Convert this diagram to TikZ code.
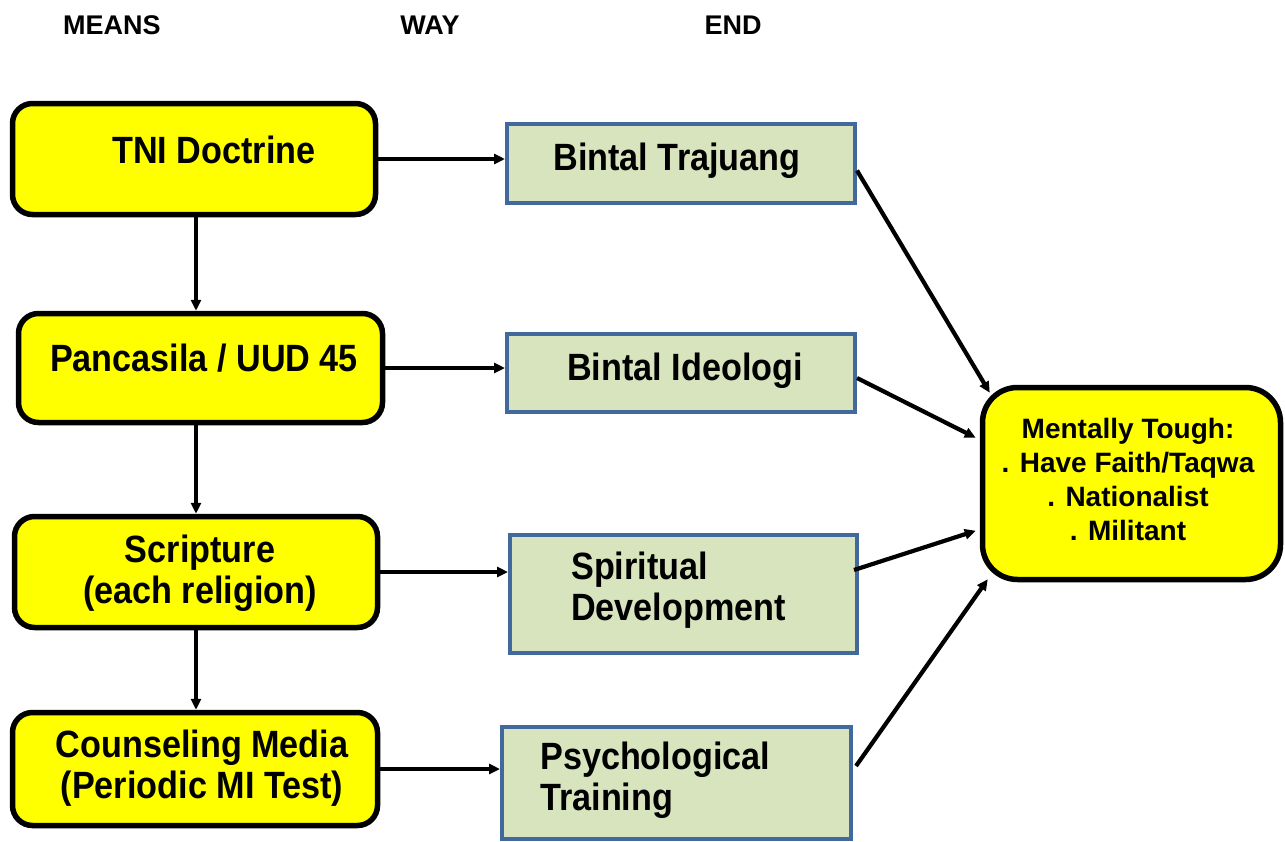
\documentclass[tikz,border=0pt]{standalone}
\usepackage{fontspec}
\setmainfont{Liberation Sans}
\newfontfamily\condfont[FakeStretch=0.9]{Liberation Sans}
\usetikzlibrary{arrows.meta,calc}
\definecolor{boxyellow}{RGB}{255,255,0}
\definecolor{boxgreen}{RGB}{215,228,189}
\definecolor{boxblue}{RGB}{65,105,155}
\begin{document}
\begin{tikzpicture}[x=1pt,y=-1pt,
  yel/.style={draw=black, line width=5.5pt, fill=boxyellow, rounded corners=20pt, inner sep=0pt},
  grn/.style={draw=boxblue, line width=4pt, fill=boxgreen, inner sep=0pt},
  txt/.style={font=\condfont\bfseries\fontsize{38}{41}\selectfont, align=center, inner sep=0pt},
  endtxt/.style={font=\bfseries\fontsize{28}{34}\selectfont, align=center, inner sep=0pt},
  head/.style={font=\bfseries\fontsize{27}{30}\selectfont, inner sep=0pt},
  arr/.style={line width=4.2pt, -{Triangle[length=11pt,width=10pt]}}]
\useasboundingbox (0,0) rectangle (1285,841);

% headers
\node[head] (hmeans) at (112,25) {MEANS};
\node[head] (hway) at (430,25) {WAY};
\node[head] (hend) at (733,25) {END};

% yellow boxes
\node[yel, minimum width=363pt, minimum height=111pt] (tni) at (194,159) {};
\node[yel, minimum width=364pt, minimum height=109pt] (pc) at (200.5,368) {};
\node[yel, minimum width=363pt, minimum height=111pt] (sc) at (196,572) {};
\node[yel, minimum width=365pt, minimum height=113pt] (cm) at (195,769) {};

% green boxes
\node[grn, minimum width=348pt, minimum height=79pt] (bt) at (681,163.5) {};
\node[grn, minimum width=348pt, minimum height=78pt] (bi) at (681,373) {};
\node[grn, minimum width=347pt, minimum height=118pt] (sd) at (683.5,594) {};
\node[grn, minimum width=349pt, minimum height=112pt] (pt) at (676.5,783) {};

% end box
\node[yel, rounded corners=35pt, minimum width=298pt, minimum height=192pt] (mt) at (1131.5,483.5) {};

% texts
\node[txt] (tnit) at (214,150) {TNI Doctrine};
\node[txt] (pct) at (204,358) {Pancasila / UUD 45};
\node[txt] (sct) at (200,573) {Scripture\\(each religion)};
\node[txt] (cmt) at (202,768) {Counseling Media\\(Periodic MI Test)};
\node[txt] (btt) at (677,161) {Bintal Trajuang};
\node[txt] (bit) at (685,371) {Bintal Ideologi};
\node[txt, align=left, anchor=west] (sdt) at (571,590) {Spiritual\\Development};
\node[txt, align=left, anchor=west] (ptt) at (540,780) {Psychological\\Training};
\node[endtxt] (mtt) at (1128,479) {Mentally Tough:\\. Have Faith/Taqwa\\. Nationalist\\. Militant};

% vertical arrows
\coordinate (tnis) at ($(tni.south)+(2,0)$);
\draw[arr] (tnis) -- (tnis |- pc.north);
\draw[arr] (sc.north |- pc.south) -- (sc.north);
\draw[arr] (sc.south) -- (sc.south |- cm.north);

% horizontal arrows
\draw[arr] (tni.east) -- (tni.east -| bt.west);
\draw[arr] (pc.east) -- (pc.east -| bi.west);
\draw[arr] (sc.east) -- (sc.east -| sd.west);
\draw[arr] (cm.east) -- (cm.east -| pt.west);

% diagonal arrows
\draw[arr] ($(bt.east)+(0,7)$) -- ($(mt.north west)+(10,8)$);
\draw[arr] ($(bi.east)+(0,5)$) -- ($(mt.north west)+(-4,53)$);
\draw[arr] ($(sd.east)+(-5,-24)$) -- ($(mt.north west)+(-4,146)$);
\draw[arr] ($(pt.east)+(3,-17)$) -- ($(mt.south west)+(8,-3)$);
\end{tikzpicture}
\end{document}
